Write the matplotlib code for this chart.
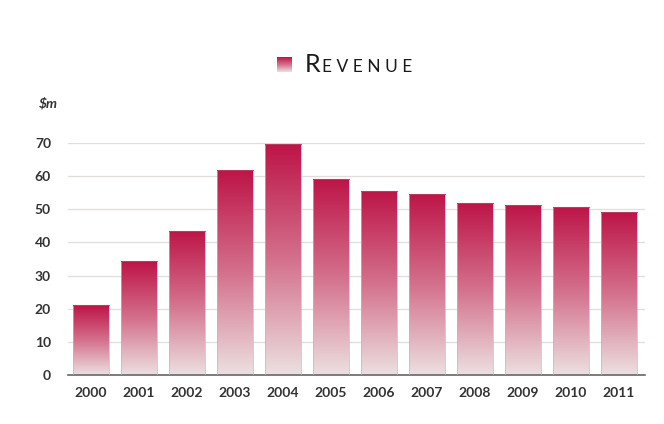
import matplotlib.pyplot as plt
import numpy as np
from matplotlib.colors import LinearSegmentedColormap

years = ['2000', '2001', '2002', '2003', '2004', '2005',
         '2006', '2007', '2008', '2009', '2010', '2011']
revenue = [21.1, 34.4, 43.5, 61.9, 69.8, 59.2, 55.6, 54.7, 52.0, 51.4, 50.8, 49.2]
yticks = [0, 10, 20, 30, 40, 50, 60, 70]

cmap = LinearSegmentedColormap.from_list('rev', ['#ece0e1', '#d4708c', '#bd1447'])
grad = np.linspace(0, 1, 256).reshape(-1, 1)

fig = plt.figure(figsize=(6.64, 4.24), dpi=100)
ax = fig.add_axes([0.102, 0.1156, 0.869, 0.547])

x = np.arange(len(years))
bars = ax.bar(x, revenue, width=0.74, color='none', edgecolor='none', zorder=2)
for b in bars:
    x0, y0 = b.get_x(), b.get_y()
    w, h = b.get_width(), b.get_height()
    im = ax.imshow(grad, cmap=cmap, aspect='auto', origin='lower',
                   extent=[x0, x0 + w, y0, y0 + h], zorder=2)
    im.set_clip_path(b)
    # thin outline round each bar, darker along the top
    ax.plot([x0, x0, x0 + w, x0 + w], [0, h, h, 0], color='#c9b4b8',
            lw=0.7, zorder=3, alpha=0.7)
    ax.plot([x0, x0 + w], [h, h], color='#b0103f', lw=0.8, zorder=3, alpha=0.6)

ax.set_xlim(-0.48, 11.54)
ax.set_ylim(0, 70)
ax.set_yticks(yticks)
ax.set_xticks(x)
ax.set_xticklabels(years)
ax.grid(axis='y', color='#e4dcda', lw=0.9, zorder=0)
ax.set_axisbelow(True)
for s in ['top', 'right', 'left']:
    ax.spines[s].set_visible(False)
ax.spines['bottom'].set_color('#666666')
ax.spines['bottom'].set_linewidth(1.2)
ax.tick_params(length=0, labelsize=10, labelcolor='#333333', pad=9)
ax.tick_params(axis='y', pad=12)
for lab in ax.get_xticklabels() + ax.get_yticklabels():
    lab.set_fontfamily('Lato')
    lab.set_fontweight('bold')

fig.text(0.058, 0.757, '$m', fontsize=10, fontstyle='italic', fontweight='bold',
         color='#333333', family='Lato', ha='left', va='center')

# legend: gradient swatch plus small-caps title
lax = fig.add_axes([277 / 664, 1 - 72 / 424, 15 / 664, 15 / 424])
lax.imshow(grad, cmap=cmap, aspect='auto', origin='lower')
lax.axis('off')
fig.text(305 / 664, 1 - 72 / 424, 'R', fontsize=18, color='#1a1a1a',
         family='Lato', ha='left', va='baseline')
fig.text(322 / 664, 1 - 72 / 424, 'E V E N U E', fontsize=12.5, color='#1a1a1a',
         family='Lato', ha='left', va='baseline')

fig.savefig('out.png', dpi=100)
